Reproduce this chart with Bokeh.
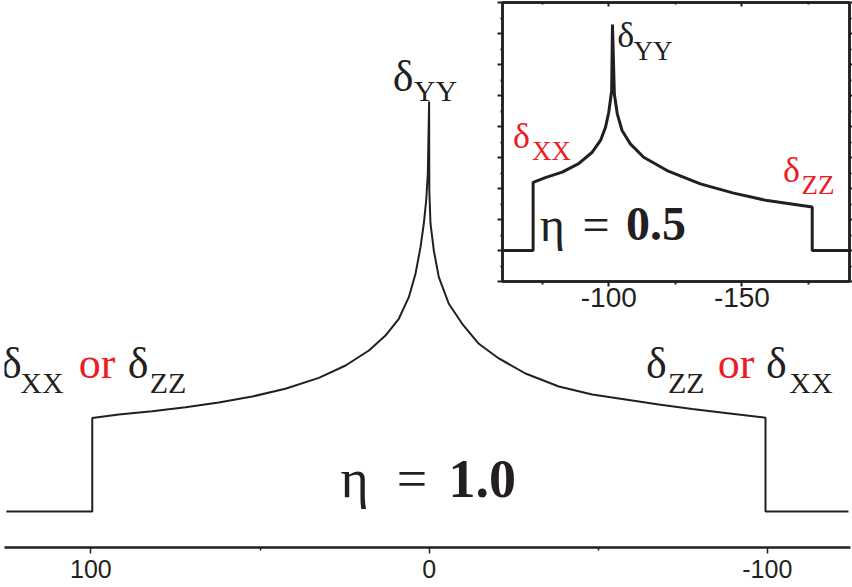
from bokeh.plotting import figure
from bokeh.models import Range1d, FixedTicker, LinearAxis, Label
from bokeh.embed import file_html
from bokeh.resources import INLINE

INK = "#231F20"
RED = "#ED1C24"

# ---- main spectrum, eta = 1.0 (chemical shift, ppm) ----
main_shift = [125.0, 99.6, 99.6, 91.75, 81.9, 72.0, 62.2, 52.3, 42.5, 32.6, 24.7, 17.8,
              12.9, 8.96, 6.00, 4.02, 2.54, 1.57, 0.86, 0.38, 0.0,
              -0.06, -0.41, -1.39, -2.87, -5.83, -9.79, -14.70, -20.61, -28.50, -38.35,
              -48.23, -58.07, -67.92, -77.79, -87.64, -99.47, -99.47, -124.0]
main_intensity = [0.0, 0.0, 0.995, 1.032, 1.067, 1.110, 1.160, 1.223, 1.305, 1.422, 1.553, 1.713,
                  1.872, 2.050, 2.280, 2.529, 2.812, 3.061, 3.309, 3.593, 4.362,
                  3.415, 3.064, 2.777, 2.493, 2.210, 1.997, 1.784, 1.628, 1.468, 1.330,
                  1.245, 1.191, 1.138, 1.090, 1.048, 0.997, 0.0, 0.0]

# ---- inset spectrum, eta = 0.5 ----
inset_shift = [-60.5, -71.6, -71.6, -76.2, -82.5, -88.7, -93.8, -96.9, -98.8, -100.0, -100.6,
               -101.1, -101.4, -102.1, -103.2, -105.0, -108.1, -113.1, -121.9, -134.4,
               -146.9, -159.5, -176.4, -176.4, -190.2]
inset_intensity = [0.0, 0.0, 2.20, 2.35, 2.53, 2.80, 3.17, 3.55, 3.98, 4.46, 4.84,
                   5.16, 7.29, 5.05, 4.41, 3.87, 3.44, 3.01, 2.58, 2.15,
                   1.85, 1.61, 1.40, 0.0, 0.0]

main_ticks = [100, 0, -100]
main_minor_ticks = [50, -50]
main_tick_labels = {100: "100", 0: "0", -100: "-100"}
inset_ticks = [-100, -150]
inset_minor_ticks = [-75, -125, -175]
inset_tick_labels = {-100: "-100", -150: "-150"}
inset_yticks = [-1, 0, 1, 2, 3, 4, 5, 6, 7, 8]
inset_yminor = [-0.5, 0.5, 1.5, 2.5, 3.5, 4.5, 5.5, 6.5, 7.5]


def add_text(fig, x, y, text, size, color=INK, bold=False):
    fig.add_layout(Label(x=x, y=y, text=text, text_font="Liberation Serif",
                         text_font_size=f"{size}px", text_color=color,
                         text_font_style="bold" if bold else "normal",
                         text_align="center", text_baseline="middle"))


# ================= main figure =================
p = figure(width=852, height=587, x_range=Range1d(125.55, -124.6),
           y_range=Range1d(-0.383, 5.436), x_axis_location=None, y_axis_location=None,
           output_backend="svg", toolbar_location=None,
           min_border_left=4, min_border_right=2, min_border_top=0, min_border_bottom=40)
p.styles = {"position": "absolute", "left": "0px", "top": "0px"}
p.outline_line_color = None
p.xgrid.visible = False
p.ygrid.visible = False
p.background_fill_color = "white"
p.border_fill_color = "white"

ax = LinearAxis(ticker=FixedTicker(ticks=main_ticks, minor_ticks=main_minor_ticks),
                major_label_overrides=main_tick_labels)
p.add_layout(ax, "below")
ax.axis_line_width = 2.5
ax.axis_line_color = INK
ax.major_tick_in = 0
ax.major_tick_out = 6
ax.minor_tick_in = 0
ax.minor_tick_out = 3
ax.major_tick_line_width = 1.5
ax.minor_tick_line_width = 1.5
ax.major_tick_line_color = INK
ax.minor_tick_line_color = INK
ax.major_label_text_font = "Liberation Sans"
ax.major_label_text_font_size = "25px"
ax.major_label_text_color = INK
ax.major_label_standoff = 6

p.line(main_shift, main_intensity, line_color=INK, line_width=2)

# labels of the main pattern
add_text(p, 123.5, 1.573, "δ", 44)
add_text(p, 114.46, 1.373, "XX", 30)
add_text(p, 98.2, 1.573, "or", 44, RED)
add_text(p, 86.07, 1.573, "δ", 44)
add_text(p, 77.2, 1.373, "ZZ", 30)

add_text(p, -67.2, 1.573, "δ", 44)
add_text(p, -76.05, 1.373, "ZZ", 30)
add_text(p, -90.75, 1.573, "or", 44, RED)
add_text(p, -102.7, 1.573, "δ", 44)
add_text(p, -112.9, 1.373, "XX", 30)

add_text(p, 7.72, 4.626, "δ", 44)
add_text(p, -1.89, 4.480, "YY", 30)

add_text(p, 22.06, 0.343, "η", 54)
add_text(p, 5.06, 0.343, "=", 54)
add_text(p, -15.7, 0.343, "1.0", 54, bold=True)

# ================= inset figure =================
q = figure(width=358, height=323, x_range=Range1d(-60.1, -190.4), y_range=Range1d(-1, 8),
           x_axis_location=None, y_axis_location=None,
           output_backend="svg", toolbar_location=None,
           min_border_left=8, min_border_right=3, min_border_top=2, min_border_bottom=42)
q.styles = {"position": "absolute", "left": "494px", "top": "0px"}
q.xgrid.visible = False
q.ygrid.visible = False
q.background_fill_color = "white"
q.border_fill_color = None
q.outline_line_color = INK
q.outline_line_width = 2.5

bottom_axis = LinearAxis(ticker=FixedTicker(ticks=inset_ticks, minor_ticks=inset_minor_ticks),
                         major_label_overrides=inset_tick_labels)
top_axis = LinearAxis(ticker=FixedTicker(ticks=inset_ticks, minor_ticks=inset_minor_ticks))
left_axis = LinearAxis(ticker=FixedTicker(ticks=inset_yticks, minor_ticks=inset_yminor))
right_axis = LinearAxis(ticker=FixedTicker(ticks=inset_yticks, minor_ticks=inset_yminor))
q.add_layout(bottom_axis, "below")
q.add_layout(top_axis, "above")
q.add_layout(left_axis, "left")
q.add_layout(right_axis, "right")

for a in [bottom_axis, top_axis, left_axis, right_axis]:
    a.axis_line_width = 2.5
    a.axis_line_color = INK
    a.major_tick_line_color = INK
    a.minor_tick_line_color = INK
    a.major_tick_line_width = 2
    a.minor_tick_line_width = 2

bottom_axis.major_tick_in = 0
bottom_axis.major_tick_out = 5
bottom_axis.minor_tick_in = 0
bottom_axis.minor_tick_out = 3
bottom_axis.major_label_text_font = "Liberation Sans"
bottom_axis.major_label_text_font_size = "28px"
bottom_axis.major_label_text_color = INK
bottom_axis.major_label_standoff = 1

top_axis.major_tick_in = 4
top_axis.major_tick_out = 0
top_axis.minor_tick_in = 2
top_axis.minor_tick_out = 0

for a, tick_out in [(left_axis, 5), (right_axis, 3)]:
    a.major_tick_in = 0
    a.major_tick_out = tick_out
    a.minor_tick_in = 0
    a.minor_tick_out = 2
for a in [top_axis, left_axis, right_axis]:
    a.major_label_text_font_size = "1px"
    a.major_label_text_color = None
    a.major_label_standoff = 0

q.line(inset_shift, inset_intensity, line_color=INK, line_width=3)

add_text(q, -106.4, 6.950, "δ", 36)
add_text(q, -116.6, 6.423, "YY", 27)
add_text(q, -67.2, 3.682, "δ", 36, RED)
add_text(q, -78.5, 3.197, "XX", 27, RED)
add_text(q, -168.6, 2.595, "δ", 36, RED)
add_text(q, -178.6, 2.123, "ZZ", 27, RED)
add_text(q, -78.8, 0.845, "η", 48)
add_text(q, -95.2, 0.845, "=", 48)
add_text(q, -117.7, 0.845, "0.5", 48, bold=True)

p_all = [p, q]
open("out.html", "w").write(file_html(p_all, INLINE))
